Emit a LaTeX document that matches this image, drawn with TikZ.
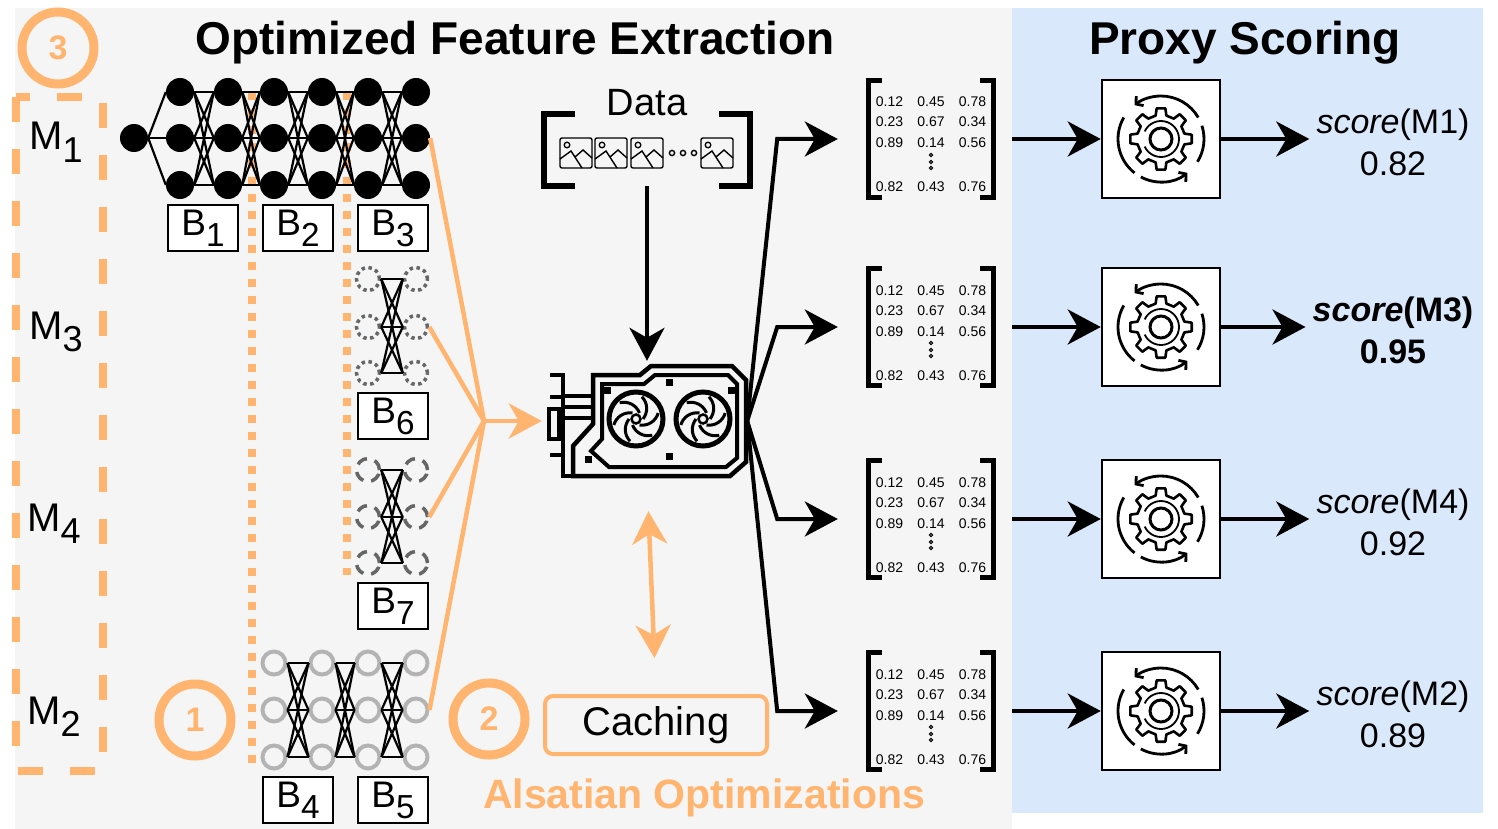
\documentclass[tikz,border=0pt]{standalone}
\usepackage{fontspec}
\setmainfont{Liberation Sans}
\usepackage{graphicx}
\usetikzlibrary{arrows.meta}

\definecolor{panelgray}{HTML}{F5F5F5}
\definecolor{panelblue}{HTML}{DAE8FC}
\definecolor{optorange}{HTML}{FFB570}
\definecolor{ghostgray}{HTML}{666666}
\definecolor{lightnode}{HTML}{B3B3B3}

\newcommand{\fsz}[1]{\fontsize{#1}{#1}\selectfont}
\newcommand{\lowidx}[1]{\raisebox{-0.3em}{\scalebox{0.9}{#1}}}

\tikzset{
  heading/.style={font=\bfseries\fsz{46}, inner sep=0pt, anchor=base},
  mname/.style={font=\fsz{40}, anchor=base west, inner sep=0pt},
  badge/.style={circle, draw=optorange, line width=9pt, minimum size=72pt, inner sep=0pt,
    text=optorange, font=\bfseries\fsz{34}},
  modelgroup/.style={draw=optorange, line width=8pt, dash pattern=on 25pt off 27pt},
  blocksep/.style={draw=optorange, line width=8pt, dash pattern=on 8pt off 9pt},
  neuron/.style={circle, fill=black, minimum size=28pt, inner sep=0pt},
  ghost/.style={circle, draw=ghostgray, line width=3.5pt, dash pattern=on 3.5pt off 3.5pt,
    minimum size=23pt, inner sep=0pt},
  ghostdash/.style={circle, draw=ghostgray, line width=3.5pt, dash pattern=on 11pt off 8pt,
    minimum size=23pt, inner sep=0pt},
  hollow/.style={circle, draw=lightnode, line width=4pt, minimum size=23pt, inner sep=0pt},
  wire/.style={line width=2.2pt},
  blockbox/.style={draw, fill=white, line width=2.5pt, minimum width=70pt, minimum height=46pt,
    inner sep=0pt, font=\fsz{37}},
  optline/.style={optorange, line width=4.5pt},
  flowarrow/.style={line width=4pt, -{Stealth[length=33pt, width=35pt, inset=10pt]}},
  optarrow/.style={optorange, line width=4.5pt, -{Stealth[length=33pt, width=35pt, inset=10pt]}},
  cachebox/.style={draw=optorange, line width=4pt, rounded corners=8pt, minimum width=222pt,
    minimum height=58pt, font=\fsz{40}},
  gearbox/.style={draw, fill=white, line width=2.5pt, minimum size=118pt, inner sep=0pt},
  matrow/.style={anchor=base, inner sep=0pt, font=\fsz{14}},
  scorelbl/.style={align=center, font=\fontsize{34}{42}\selectfont, inner sep=3pt},
  % feature matrix with brackets
  featmat/.pic={
    \node[minimum width=124pt, minimum height=116pt, inner sep=0pt] (-box) at (0,0) {};
    \draw[line width=5pt] ([xshift=13pt]-box.north west) -- (-box.north west)
      -- (-box.south west) -- ([xshift=13pt]-box.south west);
    \draw[line width=5pt] ([xshift=-13pt]-box.north east) -- (-box.north east)
      -- (-box.south east) -- ([xshift=-13pt]-box.south east);
    \foreach \k/\dy/\xa/\xb/\xc in {1/-32/0.12/0.45/0.78, 2/-12/0.23/0.67/0.34,
        3/9/0.89/0.14/0.56, 4/53/0.82/0.43/0.76}
      \node[matrow] (-r\k) at (0,\dy)
        {\makebox[41.5pt]{\xa}\makebox[41.5pt]{\xb}\makebox[41.5pt]{\xc}};
    \foreach \dy in {16,23,29}
      \draw[line width=1pt] (0,\dy) circle (1.6pt);
  },
  % scoring gear
  gear/.pic={
    \draw[line width=2.8pt, -{Straight Barb[length=5pt, width=12pt]}]
      (30:43pt) arc[start angle=30, end angle=128, radius=43pt];
    \draw[line width=2.8pt] (150:43pt) arc[start angle=150, end angle=232, radius=43pt];
    \draw[line width=2.8pt, -{Straight Barb[length=5pt, width=12pt]}]
      (242:43pt) arc[start angle=242, end angle=308, radius=43pt];
    \draw[line width=2.8pt] (-32:43pt) arc[start angle=-32, end angle=18, radius=43pt];
    \draw[line width=2.6pt, line join=round] (-13:24pt)
      foreach \a in {0,45,...,315} { -- (\a-13:24pt) -- (\a-8:31pt) -- (\a+8:31pt) -- (\a+13:24pt) }
      -- cycle;
    \draw[line width=1.8pt] (205:18pt) arc[start angle=205, end angle=515, radius=18pt];
    \draw[line width=3pt] (0,0) circle (11pt);
  },
  % small picture icon
  photo/.pic={
    \draw[line width=1.4pt, rounded corners=2pt] (-16pt,-15pt) rectangle (16pt,15pt);
    \draw[line width=1.3pt] (-9pt,8pt) circle (2.8pt);
    \draw[line width=1.4pt] (-16pt,-6pt) -- (-5pt,2pt) -- (6pt,-15pt);
    \draw[line width=1.4pt] (-1pt,-4pt) -- (7pt,3pt) -- (16pt,-5pt);
  }
}

\begin{document}
\begin{tikzpicture}[x=1pt, y=-1pt]
  \useasboundingbox (0,0) rectangle (1498,829);
  \fill[panelgray] (15,8) rectangle (1012,829);
  \fill[panelblue] (1012,8) rectangle (1483,813);

  \node[heading] (fetitle) at (515,55) {Optimized Feature Extraction};
  \node[heading] (pstitle) at (1245,55) {Proxy Scoring};

  % models
  \draw[modelgroup] (16,97) rectangle (103,771);
  \node[badge] (c3) at (58,48) {3};
  \node[mname] (m1) at (29,150) {M\lowidx{1}};
  \node[mname] (m3) at (29,339) {M\lowidx{3}};
  \node[mname] (m4) at (27,531) {M\lowidx{4}};
  \node[mname] (m2) at (27,724) {M\lowidx{2}};

  % shared block boundaries
  \draw[blocksep] (252,92) -- (252,770);
  \draw[blocksep] (347,92) -- (347,575);

  % M1 = B1 B2 B3
  \node[neuron] (in0) at (134,138) {};
  \foreach \i/\x in {1/180,2/228,3/274,4/322,5/368,6/416}
    \foreach \r/\y in {1/92,2/138,3/185}
      \node[neuron] (a\i\r) at (\x,\y) {};
  \foreach \r in {1,2,3}
    \draw[wire] (in0.east) -- (a1\r.west);
  \foreach \i/\j in {1/2,2/3,3/4,4/5,5/6}
    \foreach \r in {1,2,3}
      \foreach \s in {1,2,3}
        \draw[wire] (a\i\r.east) -- (a\j\s.west);

  % B6
  \foreach \i/\x in {1/368,2/416}
    \foreach \r/\y in {1/279,2/327,3/373}
      \node[ghost] (p\i\r) at (\x,\y) {};
  \foreach \r in {1,2,3}
    \foreach \s in {1,2,3}
      \draw[wire] (p1\r.east) -- (p2\s.west);

  % B7
  \foreach \i/\x in {1/368,2/416}
    \foreach \r/\y in {1/470,2/517,3/563}
      \node[ghostdash] (q\i\r) at (\x,\y) {};
  \foreach \r in {1,2,3}
    \foreach \s in {1,2,3}
      \draw[wire] (q1\r.east) -- (q2\s.west);

  % B4 B5
  \foreach \i/\x in {1/274,2/322,3/368,4/416}
    \foreach \r/\y in {1/663,2/710,3/757}
      \node[hollow] (h\i\r) at (\x,\y) {};
  \foreach \i/\j in {1/2,2/3,3/4}
    \foreach \r in {1,2,3}
      \foreach \s in {1,2,3}
        \draw[wire] (h\i\r.east) -- (h\j\s.west);

  \node[blockbox] (b1) at (203,228) {B\lowidx{1}};
  \node[blockbox] (b2) at (298,228) {B\lowidx{2}};
  \node[blockbox] (b3) at (393,228) {B\lowidx{3}};
  \node[blockbox] (b6) at (393,416) {B\lowidx{6}};
  \node[blockbox] (b7) at (393,606) {B\lowidx{7}};
  \node[blockbox] (b4) at (298,800) {B\lowidx{4}};
  \node[blockbox] (b5) at (393,800) {B\lowidx{5}};

  \node[badge] (c1) at (195,720) {1};
  \node[badge] (c2) at (489,719) {2};

  % GPU
  \node[minimum width=200pt, minimum height=114pt, inner sep=0pt] (gpu) at (647,421) {};
  \begin{scope}[shift={(gpu.center)}, line join=miter]
    \draw[line width=4.5pt] (-54,-46) -- (-7,-46) -- (4,-55) -- (85,-55) -- (99,-41)
      -- (99,41) -- (83,55) -- (-74,55) -- (-74,25) -- (-54,3) -- cycle;
    \draw[line width=4pt] (-45,-37) -- (-3,-37) -- (8,-46) -- (81,-46) -- (90,-37)
      -- (90,37) -- (79,46) -- (-38,46) -- (-56,30) -- (-45,18) -- cycle;
    \draw[line width=4.5pt] (-97,-46) -- (-84,-46) -- (-84,57);
    \draw[line width=4.5pt] (-97,-24) -- (-84,-24);
    \draw[line width=4.5pt] (-97,34) -- (-84,34);
    \draw[line width=4.5pt] (-84,55) -- (-74,55);
    \draw[line width=4pt] (-98,-12) rectangle (-88,18);
    \foreach \y in {-25,-14,-3}
      \draw[line width=4pt] (-84,\y) -- (-54,\y);
    \foreach \sx/\sy in {-40/-31,22/-39,84/-31,22/35,-59/38}
      \fill (\sx,\sy) +(-3.5pt,-3.5pt) rectangle +(3.5pt,3.5pt);
    \foreach \fx in {-11,56} {
      \begin{scope}[shift={(\fx,-2)}]
        \draw[line width=5pt] (0,0) circle (27pt);
        \draw[line width=2.5pt] (0,0) circle (4.5pt);
        \foreach \a in {0,60,...,300}
          \draw[line width=3pt] (\a:7pt) to[bend right=40] (\a+75:23pt);
      \end{scope}
    }
  \end{scope}

  % input data
  \node[minimum width=206pt, minimum height=72pt, inner sep=0pt] (data) at (647,150) {};
  \draw[line width=6pt] ([xshift=31pt]data.north west) -- (data.north west)
    -- (data.south west) -- ([xshift=31pt]data.south west);
  \draw[line width=6pt] ([xshift=-31pt]data.north east) -- (data.north east)
    -- (data.south east) -- ([xshift=-31pt]data.south east);
  \node[font=\fsz{38}, anchor=base, inner sep=0pt] (datalbl) at (647,116) {Data};
  \foreach \x in {576,611,647,717}
    \pic at (\x,153) {photo};
  \foreach \x in {672,683,694}
    \draw[line width=1.4pt] (\x,153) circle (2.6pt);
  \draw[flowarrow, shorten >=3pt] (data.south) -- (gpu.north);

  % caching
  \node[cachebox] (cache) at (656,725) {Caching};
  \draw[optline, {Stealth[length=33pt, width=35pt, inset=10pt]}-{Stealth[length=33pt, width=35pt, inset=10pt]},
    shorten <=33pt, shorten >=36pt] (gpu.south) -- (cache.north);
  \node[font=\bfseries\fsz{41}, text=optorange, anchor=base, inner sep=0pt] (opt) at (704,808)
    {Alsatian Optimizations};

  % blocks go to the GPU
  \coordinate (join) at (484,421);
  \draw[optline] (a62.east) -- (join);
  \draw[optline] (p22.east) -- (join);
  \draw[optline] (q22.east) -- (join);
  \draw[optline] (h42.east) -- (join);
  \draw[optarrow, shorten >=5pt] (join) -- (gpu.west);

  % features and scores
  \pic (mt1) at (931,139) {featmat};
  \pic (mt2) at (931,327) {featmat};
  \pic (mt3) at (931,519) {featmat};
  \pic (mt4) at (931,711) {featmat};
  \node[gearbox] (g1) at (1161,139) {};
  \node[gearbox] (g2) at (1161,327) {};
  \node[gearbox] (g3) at (1161,519) {};
  \node[gearbox] (g4) at (1161,711) {};
  \foreach \k in {1,2,3,4}
    \pic at (g\k) {gear};
  \node[scorelbl] (s1) at (1393,142) {\textit{score}(M1)\\0.82};
  \node[scorelbl] (s2) at (1393,330) {\textbf{\textit{score}(M3)}\\\textbf{0.95}};
  \node[scorelbl] (s3) at (1393,522) {\textit{score}(M4)\\0.92};
  \node[scorelbl] (s4) at (1393,714) {\textit{score}(M2)\\0.89};

  \coordinate (fork) at ([xshift=30pt]gpu.east);
  \foreach \k in {1,2,3,4} {
    \draw[flowarrow, shorten >=31pt] (gpu.east) -- (fork |- mt\k-box.west) -- (mt\k-box.west);
    \draw[flowarrow, shorten <=19pt] (mt\k-box.east) -- (g\k.west);
    \draw[flowarrow, shorten >=4pt] (g\k.east) -- (g\k.east -| s\k.west);
  }
\end{tikzpicture}
\end{document}
